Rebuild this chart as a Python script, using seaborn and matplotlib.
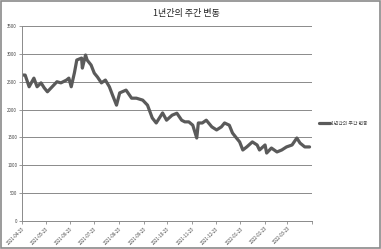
import matplotlib
matplotlib.use("Agg")
import matplotlib.pyplot as plt
import matplotlib.dates as mdates
import seaborn as sns
import pandas as pd
from matplotlib.patches import Rectangle

dates = ["2021-04-23", "2021-04-27", "2021-05-02", "2021-05-08", "2021-05-12", "2021-05-17",
         "2021-05-21", "2021-05-25", "2021-05-31", "2021-06-06", "2021-06-11", "2021-06-18",
         "2021-06-21", "2021-06-24", "2021-06-28", "2021-07-01", "2021-07-07", "2021-07-08",
         "2021-07-12", "2021-07-14", "2021-07-19", "2021-07-23", "2021-07-27", "2021-08-01",
         "2021-08-06", "2021-08-11", "2021-08-15", "2021-08-20", "2021-08-24", "2021-09-01",
         "2021-09-08", "2021-09-14", "2021-09-22", "2021-09-28", "2021-10-04", "2021-10-09",
         "2021-10-17", "2021-10-22", "2021-10-29", "2021-11-04", "2021-11-10", "2021-11-14",
         "2021-11-19", "2021-11-24", "2021-11-29", "2021-12-01", "2021-12-06", "2021-12-11",
         "2021-12-18", "2021-12-24", "2021-12-30", "2022-01-03", "2022-01-09", "2022-01-13",
         "2022-01-18", "2022-01-22", "2022-01-26", "2022-01-31", "2022-02-07", "2022-02-13",
         "2022-02-16", "2022-02-23", "2022-02-25", "2022-03-03", "2022-03-10", "2022-03-16",
         "2022-03-22", "2022-03-29", "2022-04-04", "2022-04-08", "2022-04-14", "2022-04-20"]
values = [2620, 2620, 2410, 2565, 2410, 2480, 2390, 2320, 2410, 2500, 2480, 2530,
          2565, 2410, 2660, 2890, 2925, 2745, 2980, 2890, 2800, 2655, 2585, 2480,
          2530, 2410, 2260, 2080, 2300, 2350, 2205, 2205, 2170, 2080, 1850, 1760,
          1940, 1810, 1900, 1935, 1810, 1780, 1780, 1720, 1490, 1760, 1760, 1810,
          1690, 1635, 1690, 1760, 1720, 1580, 1490, 1420, 1275, 1330, 1420, 1365,
          1275, 1365, 1220, 1310, 1240, 1275, 1330, 1365, 1490, 1400, 1330, 1330]
series_name = "1년간의 주간 변동"
tick_dates = ["2021-04-23", "2021-05-23", "2021-06-23", "2021-07-23", "2021-08-23",
              "2021-09-23", "2021-10-23", "2021-11-23", "2021-12-23", "2022-01-23",
              "2022-02-23", "2022-03-23", "2022-04-23"]
tick_labels = tick_dates[:-1] + [""]
y_ticks = [0, 500, 1000, 1500, 2000, 2500, 3000, 3500]

sns.set_style("white")
plt.rcParams['font.family'] = ['Noto Sans CJK KR', 'DejaVu Sans']

df = pd.DataFrame({"date": pd.to_datetime(dates), "value": values, "series": series_name})

fig = plt.figure(figsize=(3.81, 2.49), dpi=100)
ax = fig.add_axes([0.0577, 0.1124, 0.761, 0.783])
sns.lineplot(data=df, x="date", y="value", hue="series", palette=["#5a5a5a"],
             linewidth=2.3, ax=ax, legend=True)

ax.set_xlim(pd.Timestamp(tick_dates[0]), pd.Timestamp(tick_dates[-1]))
ax.set_ylim(0, 3500)
ax.set_yticks(y_ticks)
ax.set_yticklabels([str(v) for v in y_ticks], fontsize=3.2, color="#444444")
ax.set_xticks(pd.to_datetime(tick_dates))
ax.set_xticklabels(tick_labels, rotation=45, ha="right", rotation_mode="anchor",
                   fontsize=3.2, color="#444444")
ax.grid(axis="y", color="#8a8a8a", linewidth=0.7)
ax.grid(axis="x", visible=False)
for s in ["top", "right"]:
    ax.spines[s].set_visible(False)
for s in ["left", "bottom"]:
    ax.spines[s].set_color("#8a8a8a")
    ax.spines[s].set_linewidth(0.7)
ax.tick_params(axis="both", length=2, width=0.6, color="#8a8a8a", pad=1.5, direction="out")
ax.tick_params(axis="both", which="both", bottom=True, left=True)
ax.set_xlabel("")
ax.set_ylabel("")

ax.legend(loc="center left", bbox_to_anchor=(1.01, 0.5), frameon=False, fontsize=3.5,
          handlelength=2.2, handletextpad=0.3, labelcolor="#444444")

fig.text(0.49, 0.945, series_name, ha="center", va="center", fontsize=6.5, color="#222222")
fig.patches.append(Rectangle((0.002, 0.003), 0.995, 0.993, transform=fig.transFigure,
                             fill=False, edgecolor="#8a8a8a", linewidth=1.2))

fig.savefig("out.png", dpi=100)
